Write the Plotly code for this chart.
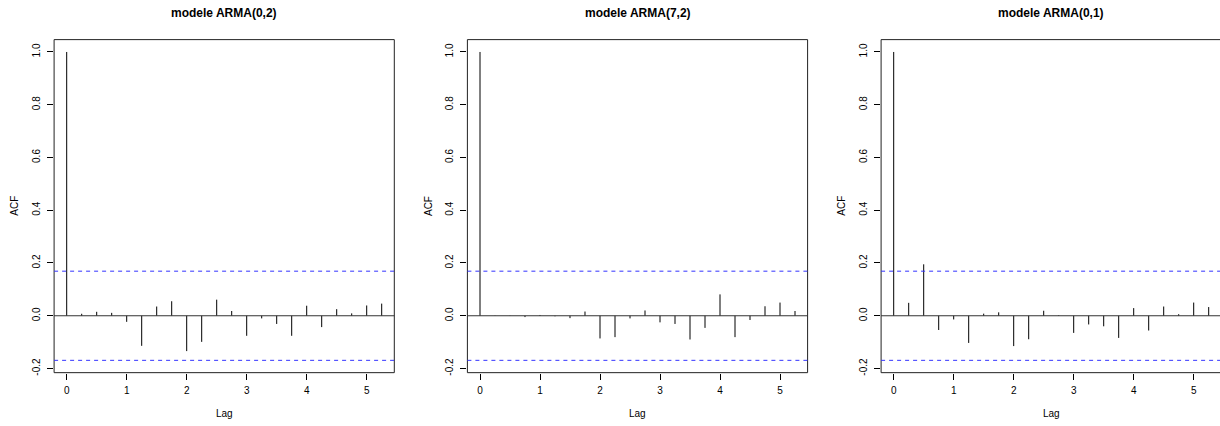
import plotly.graph_objects as go

# Lags (seasonal frequency 4) and sample autocorrelations of the residuals
LAGS = [0, 0.25, 0.5, 0.75, 1.0, 1.25, 1.5, 1.75, 2.0, 2.25, 2.5,
        2.75, 3.0, 3.25, 3.5, 3.75, 4.0, 4.25, 4.5, 4.75, 5.0, 5.25]

ACF_ARMA_0_2 = [1.0, 0.0075, 0.015, 0.011, -0.023, -0.114, 0.035, 0.055,
                -0.134, -0.099, 0.061, 0.018, -0.076, -0.010, -0.031, -0.076,
                0.038, -0.043, 0.025, 0.009, 0.039, 0.046]
ACF_ARMA_7_2 = [1.0, 0.001, -0.001, -0.005, 0.003, -0.002, -0.009, 0.016,
                -0.086, -0.081, -0.010, 0.020, -0.025, -0.031, -0.090, -0.046,
                0.081, -0.081, -0.016, 0.036, 0.050, 0.018]
ACF_ARMA_0_1 = [1.0, 0.049, 0.195, -0.054, -0.014, -0.103, 0.008, 0.013,
                -0.115, -0.089, 0.019, 0.002, -0.065, -0.033, -0.040, -0.084,
                0.029, -0.056, 0.035, 0.006, 0.050, 0.033]

TITLES = ["modele ARMA(0,2)", "modele ARMA(7,2)", "modele ARMA(0,1)"]
SERIES = [ACF_ARMA_0_2, ACF_ARMA_7_2, ACF_ARMA_0_1]
CLIM = 0.169  # approximate 95% white-noise bound

X_TICKS = [0, 1, 2, 3, 4, 5]
Y_TICKS = [-0.2, 0.0, 0.2, 0.4, 0.6, 0.8, 1.0]
Y_TICK_TEXT = ["-0.2", "0.0", "0.2", "0.4", "0.6", "0.8", "1.0"]

W, H = 1220, 426
FONT = "Liberation Sans, Arial, Helvetica, sans-serif"

# panel geometry in pixels
ORIGINS = [66.7, 480.0, 893.7]   # pixel position of lag 0 in each panel
PX_PER_LAG = 60.0
X_LO, X_HI = -0.21, 5.46
Y_LO, Y_HI = -0.2157, 1.0468
BOX_TOP, BOX_BOTTOM = 39.9, 375.3

fig = go.Figure()
shapes = []
annotations = []
layout = {}

for i, (title, acf) in enumerate(zip(TITLES, SERIES)):
    n = "" if i == 0 else str(i + 1)
    left_px = ORIGINS[i] + X_LO * PX_PER_LAG
    right_px = ORIGINS[i] + X_HI * PX_PER_LAG
    dom_right_px = min(right_px, W)
    x_hi = (dom_right_px - ORIGINS[i]) / PX_PER_LAG

    xs, ys = [], []
    for lag, v in zip(LAGS, acf):
        xs += [lag, lag, None]
        ys += [0, v, None]
    fig.add_trace(go.Scatter(
        x=xs, y=ys, mode="lines", line=dict(color="black", width=1),
        xaxis="x" + n, yaxis="y" + n, showlegend=False, hoverinfo="skip"))

    y_dom = [1 - BOX_BOTTOM / H, 1 - BOX_TOP / H]
    layout["xaxis" + n] = dict(
        domain=[left_px / W, dom_right_px / W], range=[X_LO, x_hi],
        anchor="y" + n, showgrid=False, zeroline=False, showline=False,
        tickmode="array", tickvals=X_TICKS, ticktext=[str(t) for t in X_TICKS],
        ticks="outside", ticklen=6, tickwidth=1, tickcolor="black",
        ticklabelstandoff=2,
        tickfont=dict(family=FONT, size=10, color="black"))
    layout["yaxis" + n] = dict(
        domain=y_dom, range=[Y_LO, Y_HI], anchor="x" + n,
        showgrid=False, zeroline=False, showline=False,
        tickmode="array", tickvals=Y_TICKS, ticktext=Y_TICK_TEXT,
        tickangle=-90, ticks="outside", ticklen=6, tickwidth=1,
        tickcolor="black", ticklabelstandoff=3,
        tickfont=dict(family=FONT, size=10, color="black"))

    # plot frame
    shapes.append(dict(type="rect", xref="paper", yref="paper",
                       x0=left_px / W, x1=right_px / W, y0=y_dom[0], y1=y_dom[1],
                       line=dict(color="#222222", width=1), layer="above"))
    # zero line and confidence bounds
    shapes.append(dict(type="line", xref="x" + n + " domain", yref="y" + n,
                       x0=0, x1=1, y0=0, y1=0,
                       line=dict(color="#333333", width=1)))
    for c in (CLIM, -CLIM):
        shapes.append(dict(type="line", xref="x" + n + " domain", yref="y" + n,
                           x0=0, x1=1, y0=c, y1=c,
                           line=dict(color="#3333ff", width=1, dash="4px,4px")))

    center_px = (left_px + right_px) / 2
    annotations.append(dict(text="<b>" + title + "</b>", xref="paper", yref="paper",
                            x=center_px / W, y=1 - 13.3 / H, showarrow=False,
                            xanchor="center", yanchor="middle",
                            font=dict(family=FONT, size=12, color="black")))
    annotations.append(dict(text="Lag", xref="paper", yref="paper",
                            x=center_px / W, y=1 - 416.5 / H, showarrow=False,
                            xanchor="center", yanchor="middle",
                            font=dict(family=FONT, size=10, color="black")))
    annotations.append(dict(text="ACF", xref="paper", yref="paper",
                            x=(left_px - 39.5) / W, y=1 - 207.6 / H,
                            showarrow=False, textangle=-90,
                            xanchor="center", yanchor="middle",
                            font=dict(family=FONT, size=10, color="black")))

fig.update_layout(
    width=W, height=H, margin=dict(l=0, r=0, t=0, b=0),
    paper_bgcolor="white", plot_bgcolor="white",
    shapes=shapes, annotations=annotations, **layout)

fig.write_html("out.html")
